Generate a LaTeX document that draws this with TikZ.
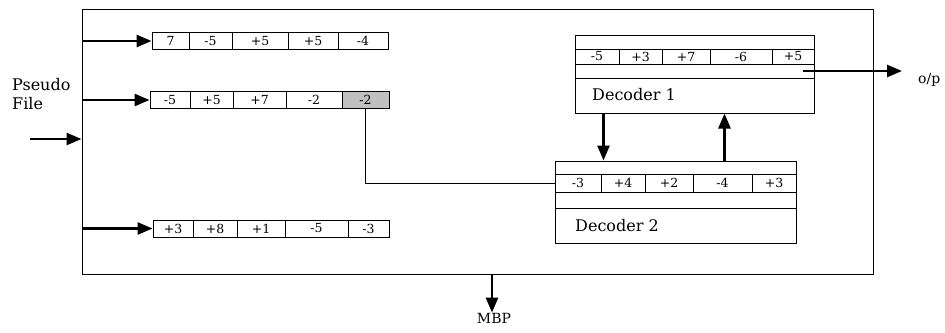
\documentclass[tikz,border=0pt]{standalone}
\usepackage{fontspec}
\setmainfont{DejaVu Serif}
\usetikzlibrary{arrows.meta}
\definecolor{cellgray}{RGB}{192, 192, 192}

\tikzset{
  cell/.style={draw, line width=0.9pt, minimum height=17pt, inner sep=0pt, font=\fontsize{12.5}{12.5}\selectfont},
  decbox/.style={draw, line width=1pt, inner sep=0pt},
  lbl/.style={inner sep=0pt, font=\fontsize{16}{19}\selectfont},
  arr/.style={line width=2.6pt, -{Triangle[length=15pt,width=12pt]}},
  wire/.style={line width=1pt}
}

\begin{document}
\begin{tikzpicture}[x=1pt, y=-1pt]
    \useasboundingbox (0,0) rectangle (945,332);
    \node[draw, line width=1pt, minimum width=791pt, minimum height=265pt, inner sep=0pt] (memory) at (477.5,141.5) {};

    \foreach \a/\b/\v [count=\i, evaluate=\a as \w using \b-\a, evaluate=\a as \m using (\a+\b)/2] in {152/189/7, 189/232/-5, 232/288/+5, 288/338/+5, 338/388/-4}
        \node[cell, minimum width=\w pt] (ra\i) at (\m,41) {\v};
    \foreach \a/\b/\v/\f [count=\i, evaluate=\a as \w using \b-\a, evaluate=\a as \m using (\a+\b)/2] in {150/190/-5/white, 190/233/+5/white, 233/286/+7/white, 286/342/-2/white, 342/389/-2/cellgray}
        \node[cell, fill=\f, minimum width=\w pt] (rb\i) at (\m,100) {\v};
    \foreach \a/\b/\v [count=\i, evaluate=\a as \w using \b-\a, evaluate=\a as \m using (\a+\b)/2] in {153/193/+3, 193/237/+8, 237/285/+1, 285/348/-5, 348/389/-3}
        \node[cell, minimum width=\w pt] (rc\i) at (\m,228.5) {\v};

    \node[decbox, minimum width=239pt, minimum height=78pt] (dec1) at (694.5,74) {};
    \foreach \a/\b/\v [count=\i, evaluate=\a as \w using \b-\a, evaluate=\a as \m using (\a+\b)/2] in {575/619/-5, 619/662/+3, 662/710/+7, 710/772/-6, 772/814/+5}
        \node[cell, minimum height=15pt, minimum width=\w pt] (da\i) at (\m,56.5) {\v};
    \draw[wire] ([yshift=-44pt]dec1.north west) -- ([yshift=-44pt]dec1.north east);
    \node[lbl, anchor=base west] (dec1lbl) at (592,100) {Decoder 1};

    \node[decbox, minimum width=241pt, minimum height=82pt] (dec2) at (675.5,202) {};
    \foreach \a/\b/\v [count=\i, evaluate=\a as \w using \b-\a, evaluate=\a as \m using (\a+\b)/2] in {555/601/-3, 601/645/+4, 645/693/+2, 693/752/-4, 752/796/+3}
        \node[cell, minimum height=18pt, minimum width=\w pt] (db\i) at (\m,183) {\v};
    \draw[wire] ([yshift=-48pt]dec2.north west) -- ([yshift=-48pt]dec2.north east);
    \node[lbl, anchor=base west] (dec2lbl) at (575,231) {Decoder 2};

    \node[lbl, anchor=base west, align=left] (pseudo) at (12,109) {Pseudo\\File};
    \node[lbl, font=\fontsize{14}{14}\selectfont, anchor=base west] (op) at (918,83) {o/p};
    \node[lbl, font=\fontsize{14}{14}\selectfont, anchor=base] (mbp) at (494,323) {MBP};

    \coordinate (pfin) at (30,139);
    \coordinate (outstart) at (803,71);
    \coordinate (outend) at (902,71);
    \coordinate (down) at ([xshift=29pt]dec1.south west);
    \coordinate (up) at ([xshift=170pt]dec2.north west);
    \coordinate (mbpout) at ([xshift=14.5pt]memory.south);

    \draw[arr] (pfin) -- (pfin -| memory.west);
    \draw[arr] (memory.west |- ra1.west) -- (ra1.west);
    \draw[arr] (memory.west |- rb1.west) -- (rb1.west);
    \draw[arr] (memory.west |- rc1.west) -- (rc1.west);
    \draw[wire] (rb5.south) |- (db1.west);
    \draw[arr] (down) -- (down |- dec2.north);
    \draw[arr] (up) -- (up |- dec1.south);
    \draw[arr] (outstart) -- (outend);
    \draw[arr] (mbpout) -- (mbpout |- mbp.north);
\end{tikzpicture}
\end{document}
